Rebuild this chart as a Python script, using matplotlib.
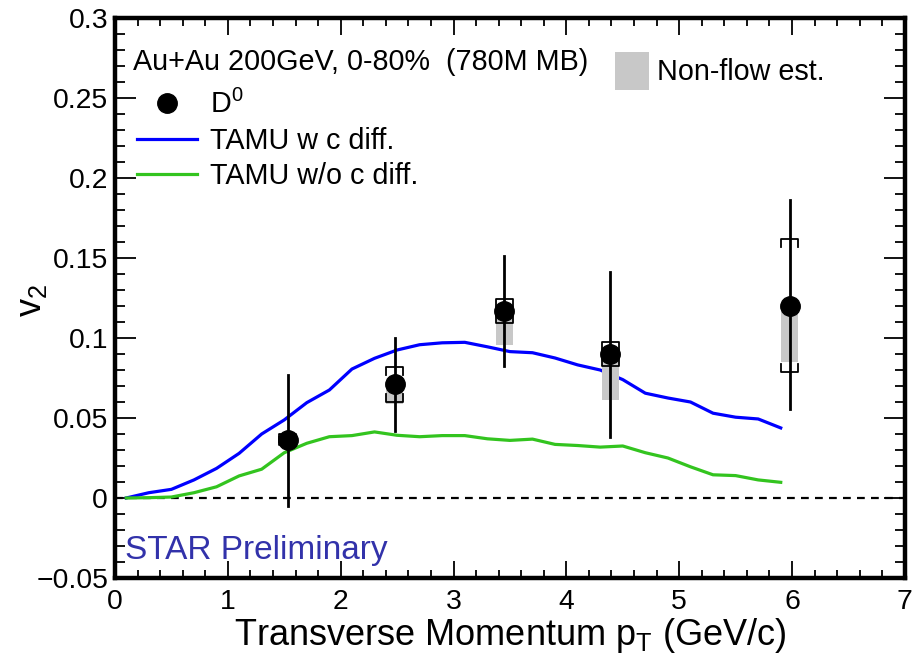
import matplotlib
matplotlib.use('Agg')
import matplotlib.pyplot as plt
from matplotlib.lines import Line2D
from matplotlib.patches import Patch
from matplotlib.ticker import MultipleLocator, FuncFormatter

plt.rcParams.update({
    'font.family': ['Liberation Sans', 'DejaVu Sans'],
    'mathtext.fontset': 'custom',
    'mathtext.rm': 'Liberation Sans',
    'mathtext.it': 'Liberation Sans:italic',
    'mathtext.bf': 'Liberation Sans:bold',
})

# --- Data ---
# D0 v2 points
pt = [1.53, 2.48, 3.45, 4.39, 5.98]
v2 = [0.0363, 0.0713, 0.117, 0.0898, 0.120]
stat_hi = [0.0769, 0.0998, 0.151, 0.1415, 0.186]
stat_lo = [-0.005, 0.042, 0.0825, 0.038, 0.0555]
sys_hi = [0.040, 0.082, 0.1244, 0.0973, 0.162]
sys_lo = [0.033, 0.060, 0.1096, 0.0825, 0.079]
nonflow_lo = [0.034, 0.059, 0.0956, 0.061, 0.085]

# TAMU model curves
model_pt = [0.1, 0.3, 0.5, 0.7, 0.9, 1.1, 1.3, 1.5, 1.7, 1.9,
            2.1, 2.3, 2.5, 2.7, 2.9, 3.1, 3.3, 3.5, 3.7, 3.9,
            4.1, 4.3, 4.5, 4.7, 4.9, 5.1, 5.3, 5.5, 5.7, 5.9]
tamu_diff = [0.0, 0.0033, 0.0054, 0.0113, 0.0185, 0.0279, 0.0400, 0.0488, 0.0596, 0.0675,
             0.0806, 0.0873, 0.0925, 0.0958, 0.0970, 0.0973, 0.0945, 0.0915, 0.0908, 0.0875,
             0.0832, 0.0800, 0.0740, 0.0655, 0.0625, 0.0600, 0.0530, 0.0505, 0.0494, 0.0438]
tamu_nodiff = [0.0, 0.0002, 0.0006, 0.0033, 0.0070, 0.0138, 0.0180, 0.0283, 0.0342, 0.0383,
               0.0390, 0.0413, 0.0392, 0.0383, 0.0390, 0.0390, 0.0370, 0.0360, 0.0368, 0.0335,
               0.0328, 0.0318, 0.0325, 0.0283, 0.0250, 0.0195, 0.0145, 0.0140, 0.0113, 0.0098]

blue = '#0000ff'
green = '#33c41f'
gray = '#c8c8c8'

fig = plt.figure(figsize=(9.14, 6.58), dpi=100)
ax = fig.add_axes([0.1258, 0.1216, 0.8642, 0.8510])

# zero line
ax.axhline(0, color='black', lw=1.6, ls=(0, (3.5, 2.8)), zorder=1)

# model curves
ax.plot(model_pt, tamu_diff, color=blue, lw=2.3, zorder=2)
ax.plot(model_pt, tamu_nodiff, color=green, lw=2.3, zorder=2)

# non-flow estimate boxes
box_w = 0.15
for x, lo, top in zip(pt, nonflow_lo, v2):
    ax.bar(x, top - lo, bottom=lo, width=box_w, color=gray, edgecolor='none', zorder=3)

# statistical errors
for x, lo, hi in zip(pt, stat_lo, stat_hi):
    ax.plot([x, x], [lo, hi], color='black', lw=2.0, zorder=4)

# systematic brackets
hw = 0.075
hook = 0.005
for x, lo, hi in zip(pt, sys_lo, sys_hi):
    ax.plot([x - hw, x - hw, x + hw, x + hw], [hi - hook, hi, hi, hi - hook],
            color='black', lw=1.3, zorder=4)
    ax.plot([x - hw, x - hw, x + hw, x + hw], [lo + hook, lo, lo, lo + hook],
            color='black', lw=1.3, zorder=4)

# points
ax.plot(pt, v2, 'o', color='black', ms=14, zorder=5)

# axes
ax.set_xlim(0, 7)
ax.set_ylim(-0.05, 0.3)
ax.xaxis.set_major_locator(MultipleLocator(1))
ax.xaxis.set_minor_locator(MultipleLocator(0.2))
ax.yaxis.set_major_locator(MultipleLocator(0.05))
ax.yaxis.set_minor_locator(MultipleLocator(0.01))
ax.yaxis.set_major_formatter(FuncFormatter(lambda v, p: ('%g' % round(v, 3)).replace('-', '\u2212')))
ax.tick_params(which='both', direction='in', top=True, right=True, labelsize=20.4, width=1.3)
ax.tick_params(axis='y', which='major', length=15, pad=5)
ax.tick_params(axis='y', which='minor', length=7)
ax.tick_params(axis='x', which='major', length=12, pad=8)
ax.tick_params(axis='x', which='minor', length=6)
for s in ax.spines.values():
    s.set_linewidth(3.2)

ax.set_xlabel(r'Transverse Momentum p$_\mathrm{T}$ (GeV/c)', fontsize=26)
ax.xaxis.set_label_coords(0.5, -0.068)
ax.set_ylabel(r'v$_2$', fontsize=26)
ax.yaxis.set_label_coords(-0.083, 0.496)

# texts
ax.text(0.023, 0.922, 'Au+Au 200GeV, 0-80%  (780M MB)', transform=ax.transAxes,
        fontsize=20.7, ha='left', va='center')
ax.text(0.0127, 0.049, 'STAR Preliminary', transform=ax.transAxes,
        fontsize=24, color='#3232aa', ha='left', va='center')

# legends
handles = [
    Line2D([], [], marker='o', ls='none', color='black', ms=14),
    Line2D([], [], color=blue, lw=2.3),
    Line2D([], [], color=green, lw=2.3),
]
leg1 = ax.legend(handles, [r'D$^0$', 'TAMU w c diff.', 'TAMU w/o c diff.'],
                 loc='upper left', bbox_to_anchor=(0.028, 0.871), frameon=False,
                 fontsize=20.7, borderpad=0, borderaxespad=0, handlelength=2.08,
                 handletextpad=0.45, labelspacing=0.26)
ax.add_artist(leg1)
ax.legend([Patch(facecolor=gray, edgecolor='none')], ['Non-flow est.'],
          loc='upper left', bbox_to_anchor=(0.633, 0.939), frameon=False,
          fontsize=20.7, borderpad=0, borderaxespad=0, handlelength=1.18,
          handleheight=1.63, handletextpad=0.28)

fig.savefig('out.png', dpi=100)
